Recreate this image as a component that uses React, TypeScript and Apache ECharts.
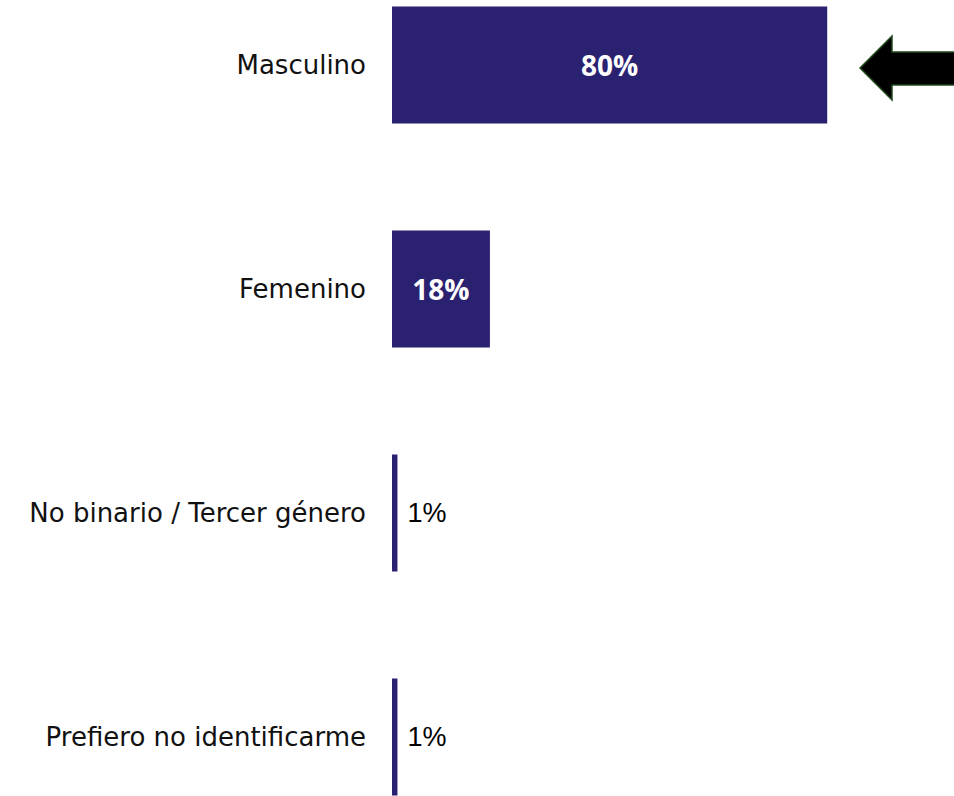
import React, { useEffect, useRef } from "react";
import * as echarts from "echarts";

const categories = ["Masculino", "Femenino", "No binario / Tercer género", "Prefiero no identificarme"];
const values = [80, 18, 1, 1];
const insideLabel = [true, true, false, false];

const BAR_COLOR = "#2a2170";

export default function App() {
  const ref = useRef<HTMLDivElement>(null);
  useEffect(() => {
    if (!ref.current) return;
    const chart = echarts.init(ref.current, null, { renderer: "svg" });
    const data = values.map((v, i) => ({
      value: v,
      label: insideLabel[i]
        ? {
            show: true,
            position: "inside",
            color: "#ffffff",
            fontFamily: "Open Sans",
            fontWeight: "bold",
            fontSize: 28,
            formatter: "{c}%",
          }
        : {
            show: true,
            position: "right",
            distance: 10,
            color: "#000000",
            fontFamily: "Liberation Sans",
            fontSize: 27,
            formatter: "{c}%",
          },
    }));
    chart.setOption({
      animation: false,
      grid: { left: 392, right: 18, top: 65, bottom: 59, containLabel: false },
      xAxis: {
        type: "value",
        min: 0,
        max: 100,
        show: false,
        splitLine: { show: false },
      },
      yAxis: {
        type: "category",
        data: categories,
        inverse: true,
        boundaryGap: false,
        axisLine: { show: false },
        axisTick: { show: false },
        splitLine: { show: false },
        axisLabel: {
          margin: 26,
          color: "#111111",
          fontFamily: "DejaVu Sans",
          fontSize: 26,
        },
      },
      series: [
        {
          type: "bar",
          data,
          barWidth: 117,
          clip: false,
          itemStyle: { color: BAR_COLOR },
        },
      ],
      graphic: [
        {
          type: "polygon",
          shape: {
            points: [
              [860, 68],
              [892, 36],
              [892, 52],
              [958, 52],
              [958, 85],
              [892, 85],
              [892, 100],
            ],
          },
          style: { fill: "#000000", stroke: "#1f4a1f", lineWidth: 1.5 },
        },
      ],
    });
    return () => chart.dispose();
  }, []);
  return (
    <div
      ref={ref}
      style={{ position: "absolute", left: 0, top: 0, width: 954, height: 796, background: "#ffffff" }}
    />
  );
}
